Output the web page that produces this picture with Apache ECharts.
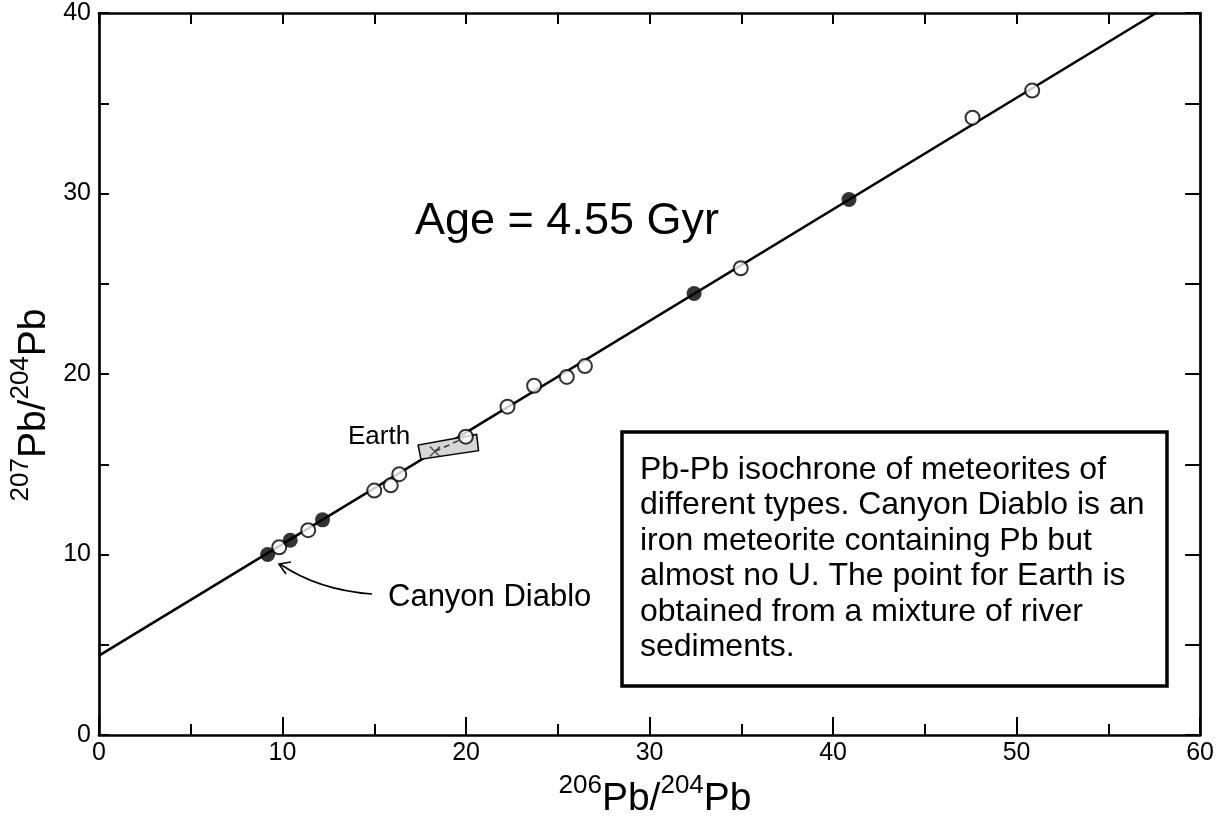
<!DOCTYPE html>
<html>
<head>
<meta charset="utf-8">
<script src="https://cdn.jsdelivr.net/npm/echarts@6/dist/echarts.min.js"></script>
<style>
html,body{margin:0;padding:0;background:#fff;}
#chart{width:1217px;height:820px;}
</style>
</head>
<body>
<div id="chart"></div>
<script>
// ---- data ----
const xTickLabels = ['0','10','20','30','40','50','60'];
const yTickLabels = ['0','10','20','30','40'];
// isochron (Age = 4.55 Gyr)
const isochronX = [0, 57.6];
const isochronY = [4.4, 40.0];
// filled symbols
const filledX = [9.19, 10.42, 12.18, 32.43, 40.87];
const filledY = [10.0, 10.79, 11.92, 24.46, 29.67];
// open symbols
const openX = [9.82, 11.40, 15.0, 15.9, 16.36, 19.99, 22.26, 23.71, 25.49, 26.48, 34.97, 47.6, 50.85];
const openY = [10.40, 11.35, 13.54, 13.83, 14.45, 16.53, 18.19, 19.35, 19.84, 20.44, 25.86, 34.2, 35.7];
// Earth point and its uncertainty box
const earthX = [18.3];
const earthY = [15.71];
const earthBoxX = [17.39, 17.54, 20.68, 20.58];
const earthBoxY = [16.06, 15.28, 15.75, 16.65];
const earthDashX = [18.3, 19.9];
const earthDashY = [15.71, 16.45];

const zip = (a, b) => a.map((v, i) => [v, b[i]]);
const FONT = '"Liberation Sans", Arial, Helvetica, sans-serif';

const chart = echarts.init(document.getElementById('chart'), null, {renderer: 'canvas'});

const axisLineStyle = {color: '#000', width: 2.7};
const tickStyle = {color: '#000', width: 2};

const nameRich = {
  s: {fontSize: 26, fontFamily: FONT, fill: '#000', verticalAlign: 'top', lineHeight: 46},
  b: {fontSize: 39, fontFamily: FONT, fill: '#000', verticalAlign: 'bottom', lineHeight: 46}
};

const option = {
  backgroundColor: '#fff',
  animation: false,
  grid: {left: 99, right: 13, top: 13, bottom: 85},
  xAxis: [{
    type: 'value', position: 'bottom', min: 0, max: 60, interval: 10,
    axisLine: {show: true, onZero: false, lineStyle: axisLineStyle},
    axisTick: {show: true, inside: true, length: 18, lineStyle: tickStyle},
    minorTick: {show: true, splitNumber: 2, length: 11, lineStyle: tickStyle},
    splitLine: {show: false},
    axisLabel: {fontSize: 25, color: '#000', fontFamily: FONT, margin: 6,
      formatter: (v) => xTickLabels[Math.round(v / 10)]}
  }, {
    type: 'value', position: 'top', min: 0, max: 60, interval: 10,
    axisLine: {show: true, onZero: false, lineStyle: axisLineStyle},
    axisTick: {show: true, inside: true, length: 11, lineStyle: tickStyle},
    minorTick: {show: true, splitNumber: 2, length: 11, lineStyle: tickStyle},
    splitLine: {show: false},
    axisLabel: {show: false}
  }],
  yAxis: [{
    type: 'value', position: 'left', min: 0, max: 40, interval: 10,
    axisLine: {show: true, onZero: false, lineStyle: axisLineStyle},
    axisTick: {show: true, inside: true, length: 10, lineStyle: tickStyle},
    minorTick: {show: true, splitNumber: 2, length: 10, lineStyle: tickStyle},
    splitLine: {show: false},
    axisLabel: {fontSize: 25, color: '#000', fontFamily: FONT, margin: 8,
      formatter: (v) => yTickLabels[Math.round(v / 10)]}
  }, {
    type: 'value', position: 'right', min: 0, max: 40, interval: 10,
    axisLine: {show: true, onZero: false, lineStyle: axisLineStyle},
    axisTick: {show: true, inside: true, length: 15, lineStyle: tickStyle},
    minorTick: {show: true, splitNumber: 2, length: 15, lineStyle: tickStyle},
    splitLine: {show: false},
    axisLabel: {show: false}
  }],
  series: [
    {
      name: 'isochron', type: 'line', data: zip(isochronX, isochronY),
      symbol: 'none', lineStyle: {color: '#000', width: 2.6}, z: 2, silent: true
    },
    {
      name: 'earthBox', type: 'custom', data: zip(earthBoxX, earthBoxY), z: 3,
      renderItem: function (params, api) {
        if (params.dataIndex !== 0) return null;
        const pts = earthBoxX.map((x, i) => api.coord([x, earthBoxY[i]]));
        return {
          type: 'polygon',
          shape: {points: pts},
          style: {fill: '#d6d6d6', stroke: '#000', lineWidth: 1.5}
        };
      }
    },
    {
      name: 'earthDash', type: 'line', data: zip(earthDashX, earthDashY),
      symbol: 'none', lineStyle: {color: '#333', width: 1.5, type: [6, 4]}, z: 4
    },
    {
      name: 'earth', type: 'scatter', data: zip(earthX, earthY),
      symbol: 'path://M0,0L10,10M10,0L0,10', symbolSize: 10,
      itemStyle: {color: 'none', borderColor: '#333', borderWidth: 1.5}, z: 5
    },
    {
      name: 'open', type: 'scatter', data: zip(openX, openY),
      symbol: 'circle', symbolSize: 14,
      itemStyle: {color: '#fff', borderColor: '#000', borderWidth: 2}, z: 6
    },
    {
      name: 'filled', type: 'scatter', data: zip(filledX, filledY),
      symbol: 'circle', symbolSize: 15,
      itemStyle: {color: '#000', borderColor: '#000', borderWidth: 0}, z: 6
    }
  ],
  graphic: [
    {
      type: 'text', x: 415, y: 222, z: 10,
      style: {text: 'Age = 4.55 Gyr', font: '45px ' + FONT, fill: '#000',
        textAlign: 'left', textVerticalAlign: 'middle'}
    },
    {
      type: 'text', x: 348, y: 437, z: 10,
      style: {text: 'Earth', font: '26px ' + FONT, fill: '#000',
        textAlign: 'left', textVerticalAlign: 'middle'}
    },
    {
      type: 'text', x: 388, y: 597, z: 10,
      style: {text: 'Canyon Diablo', font: '31px ' + FONT, fill: '#000',
        textAlign: 'left', textVerticalAlign: 'middle'}
    },
    {
      type: 'bezierCurve', z: 10,
      shape: {x1: 372, y1: 594, x2: 280, y2: 564, cpx1: 318, cpy1: 590},
      style: {stroke: '#000', lineWidth: 1.6, fill: 'none'}
    },
    {
      type: 'polyline', z: 10,
      shape: {points: [[291, 562], [279, 564], [286, 574]]},
      style: {stroke: '#000', lineWidth: 1.6, fill: 'none'}
    },
    {
      type: 'rect', z: 10,
      shape: {x: 622, y: 432, width: 545, height: 254},
      style: {fill: '#fff', stroke: '#000', lineWidth: 3.5}
    },
    {
      type: 'text', x: 640, y: 452, z: 11,
      style: {
        text: 'Pb-Pb isochrone of meteorites of\ndifferent types. Canyon Diablo is an\niron meteorite containing Pb but\nalmost no U. The point for Earth is\nobtained from a mixture of river\nsediments.',
        font: '32px ' + FONT, lineHeight: 35.5, fill: '#000',
        textAlign: 'left', textVerticalAlign: 'top'
      }
    },
    {
      type: 'text', x: 655, y: 796, z: 10,
      style: {
        text: '{s|206}{b|Pb/}{s|204}{b|Pb}',
        textAlign: 'center', textVerticalAlign: 'middle', fill: '#000',
        rich: nameRich
      }
    },
    {
      type: 'text', x: 31, y: 405, rotation: Math.PI / 2, z: 10,
      style: {
        text: '{s|207}{b|Pb/}{s|204}{b|Pb}',
        textAlign: 'center', textVerticalAlign: 'middle', fill: '#000',
        rich: nameRich
      }
    }
  ]
};
chart.setOption(option);
</script>
</body>
</html>
